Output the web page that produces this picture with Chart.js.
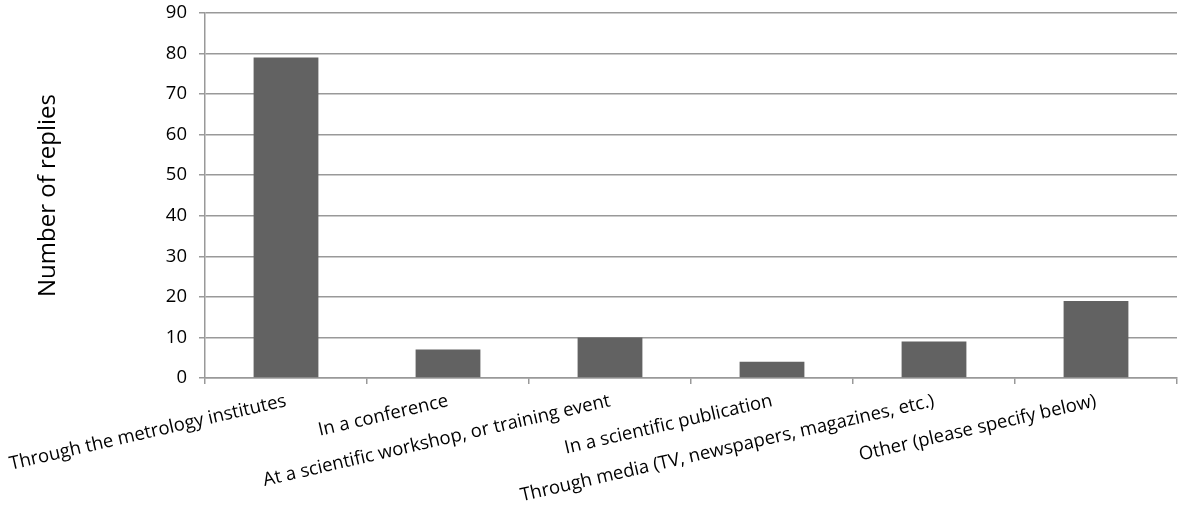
<!DOCTYPE html>
<html>
<head>
<meta charset="utf-8">
<script src="https://cdn.jsdelivr.net/npm/chart.js@4/dist/chart.umd.min.js"></script>
<style>
  html, body { margin: 0; padding: 0; background: #fff; }
  #wrap { width: 1179px; height: 519px; }
</style>
</head>
<body>
<div id="wrap"><canvas id="chart"></canvas></div>
<script>
const categories = [
  'Through the metrology institutes',
  'In a conference',
  'At a scientific workshop, or training event',
  'In a scientific publication',
  'Through media (TV, newspapers, magazines, etc.)',
  'Other (please specify below)'
]
const replies = [79, 7, 10, 4, 9, 19]
const yTicks = [0, 10, 20, 30, 40, 50, 60, 70, 80, 90]

const gridColor = '#999999'
const font = 'Open Sans'

new Chart(document.getElementById('chart').getContext('2d'), {
  type: 'bar',
  data: {
    labels: categories,
    datasets: [
      {
        label: 'Number of replies',
        data: replies,
        backgroundColor: '#626262',
        borderWidth: 0,
        categoryPercentage: 1,
        barPercentage: 0.4
      }
    ]
  },
  options: {
    responsive: true,
    maintainAspectRatio: false,
    animation: false,
    layout: { padding: { top: 13, right: 2, left: 0, bottom: 0 } },
    plugins: {
      legend: { display: false },
      tooltip: { enabled: false }
    },
    scales: {
      x: {
        grid: {
          offset: true,
          drawOnChartArea: false,
          drawTicks: true,
          tickLength: 6,
          color: gridColor,
          lineWidth: 1.5
        },
        border: { color: gridColor, width: 1.5 },
        ticks: {
          autoSkip: false,
          minRotation: 13,
          maxRotation: 13,
          padding: 6,
          color: '#000',
          font: { family: font, size: 18.5 }
        },
        afterFit: scale => {
          scale.height = 141
          scale.paddingLeft = 0
          scale.paddingRight = 0
        }
      },
      y: {
        min: 0,
        max: 90,
        afterBuildTicks: scale => { scale.ticks = yTicks.map(v => ({ value: v })) },
        grid: {
          color: gridColor,
          lineWidth: 1.5,
          tickLength: 6
        },
        border: { color: gridColor, width: 1.5 },
        ticks: {
          padding: 12,
          color: '#000',
          font: { family: font, size: 18.5 }
        },
        title: {
          display: true,
          text: 'Number of replies',
          color: '#000',
          font: { family: font, size: 24 },
          padding: { top: 34, bottom: 0 }
        },
        afterFit: scale => {
          scale.width = 205
          scale.paddingTop = 0
          scale.paddingBottom = 0
        }
      }
    }
  }
})
</script>
</body>
</html>
